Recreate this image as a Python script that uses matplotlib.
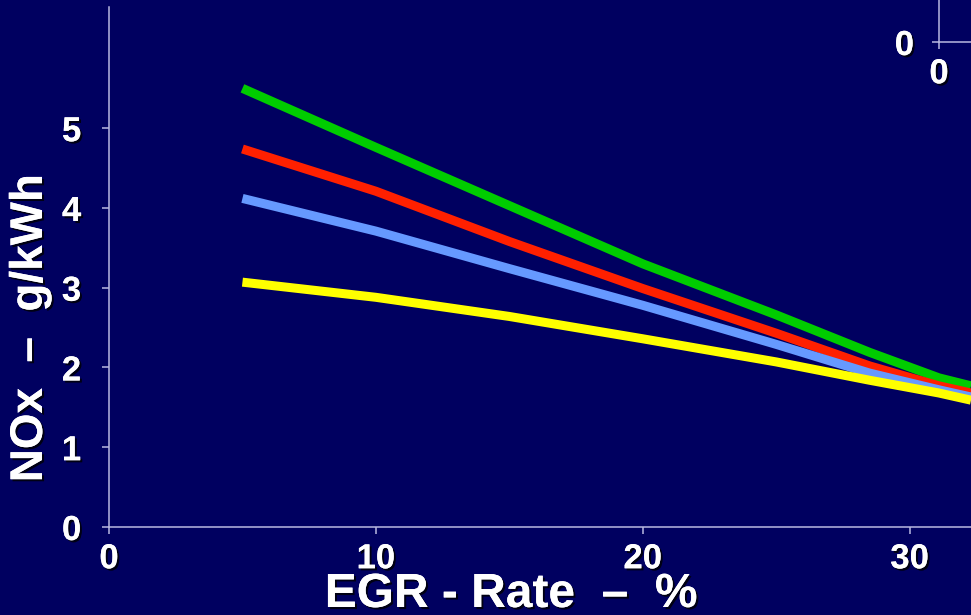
import matplotlib
matplotlib.use("Agg")
import matplotlib.pyplot as plt
from matplotlib import patheffects

# EGR rate (%) sample positions
egr = [5, 10, 15, 20, 25, 28.5, 31.1, 32.3]

nox_green = [5.50, 4.76, 4.03, 3.30, 2.66, 2.19, 1.87, 1.77]
nox_red = [4.74, 4.21, 3.58, 2.99, 2.43, 2.02, 1.77, 1.68]
nox_blue = [4.12, 3.71, 3.24, 2.78, 2.29, 1.93, 1.72, 1.63]
nox_yellow = [3.07, 2.88, 2.64, 2.36, 2.07, 1.84, 1.68, 1.59]

x_ticks = [0, 10, 20, 30]
y_ticks = [0, 1, 2, 3, 4, 5]

BG = "#000060"
SPINE = "#b8b8e0"
shadow = [patheffects.withSimplePatchShadow(offset=(1.5, -1.5), shadow_rgbFace="black", alpha=0.8),
          patheffects.Normal()]

plt.rcParams["font.family"] = ["Liberation Sans", "DejaVu Sans"]
plt.rcParams["font.weight"] = "bold"

fig = plt.figure(figsize=(9.71, 6.15), dpi=100, facecolor=BG)
ax = fig.add_axes([109 / 971, 88 / 615, 862 / 971, 520 / 615])
ax.set_facecolor(BG)

series = [
    (nox_green, "#00cc00"),
    (nox_red, "#ff2000"),
    (nox_blue, "#6699ff"),
    (nox_yellow, "#ffff00"),
]
for values, color in series:
    ax.plot(egr, values, color=color, linewidth=6.5, solid_capstyle="butt",
            solid_joinstyle="round")

ax.set_xlim(0, 32.3)
ax.set_ylim(0, 6.52)
ax.set_xticks(x_ticks)
ax.set_yticks(y_ticks)
for side in ["top", "right"]:
    ax.spines[side].set_visible(False)
for side in ["left", "bottom"]:
    ax.spines[side].set_color(SPINE)
    ax.spines[side].set_linewidth(1.1)
ax.tick_params(axis="both", colors=SPINE, length=5, width=1.1, labelcolor="white", labelsize=25)
ax.tick_params(axis="y", pad=15)
ax.tick_params(axis="x", pad=6)
for lbl in ax.get_xticklabels() + ax.get_yticklabels():
    lbl.set_fontweight("bold")
    lbl.set_path_effects(shadow)

fig.text(30 / 971, (615 - 328) / 615, "NOx  \u2013  g/kWh", rotation=90, ha="center", va="center",
         color="white", fontsize=33, fontweight="bold", path_effects=shadow)
fig.text(511 / 971, 8 / 615, "EGR - Rate  \u2013  %", ha="center", va="baseline",
         color="white", fontsize=34.5, fontweight="bold", path_effects=shadow)

# small leftover axes in the top right corner
ax2 = fig.add_axes([939 / 971, (615 - 42) / 615, 0.1, 0.1])
ax2.set_facecolor("none")
ax2.set_xlim(0, 1)
ax2.set_ylim(0, 1)
ax2.set_xticks([0])
ax2.set_yticks([0])
for side in ["top", "right"]:
    ax2.spines[side].set_visible(False)
for side in ["left", "bottom"]:
    ax2.spines[side].set_color(SPINE)
    ax2.spines[side].set_linewidth(1.1)
ax2.tick_params(axis="both", colors=SPINE, length=5, width=1.1, labelcolor="white", labelsize=25)
ax2.tick_params(axis="y", pad=13)
ax2.tick_params(axis="x", pad=6)
for lbl in ax2.get_xticklabels() + ax2.get_yticklabels():
    lbl.set_fontweight("bold")
    lbl.set_path_effects(shadow)

fig.savefig("out.png", dpi=100, facecolor=BG)
